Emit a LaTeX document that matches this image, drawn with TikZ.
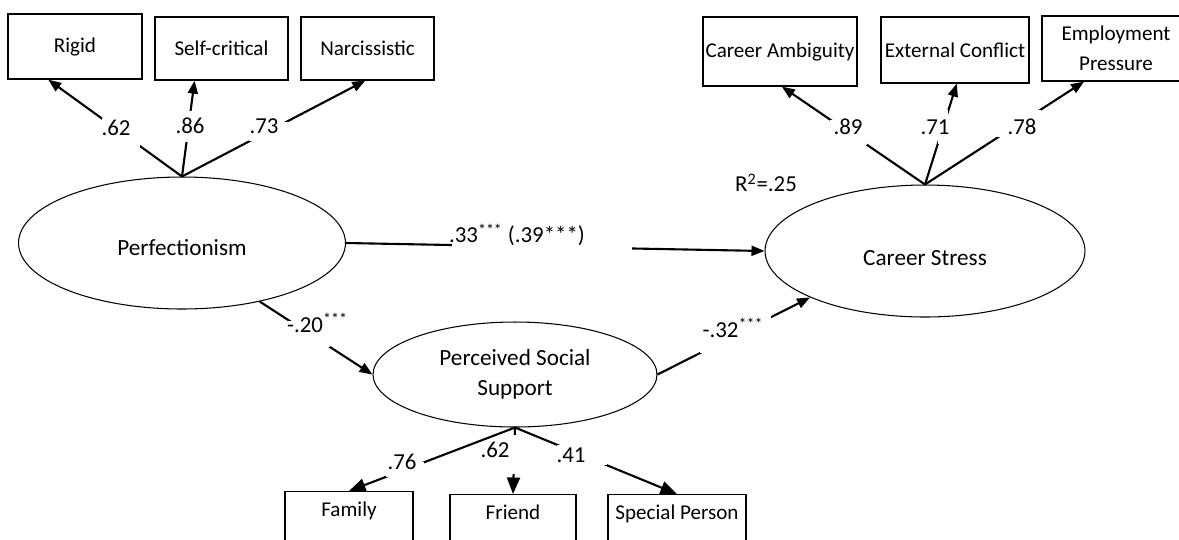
\documentclass[tikz,border=0pt]{standalone}
\usepackage{fontspec}
\setmainfont{Carlito}
\usetikzlibrary{shapes.geometric,arrows.meta}

\begin{document}
\begin{tikzpicture}[
    x=0.02cm, y=-0.02cm,
    latent/.style={ellipse, draw, line width=0.6pt, inner sep=0pt, align=center, font=\fontsize{13.2}{17}\selectfont},
    indicator/.style={rectangle, draw, line width=0.7pt, inner sep=0pt, align=center, font=\fontsize{12}{17}\selectfont},
    lowbox/.style={indicator, anchor=north, inner ysep=4pt, text height=10pt, text depth=2cm},
    arrow/.style={-{Triangle[length=0.26cm, width=0.2cm]}, line width=1.2pt},
    bigarrow/.style={-{Triangle[length=0.33cm, width=0.26cm]}, line width=1.2pt},
    gap/.style 2 args={fill=white, inner sep=0pt, minimum width=#1, minimum height=#2},
    coef/.style={inner sep=0pt, font=\fontsize{13}{15}\selectfont}
]
    \clip (0,0) rectangle (1179,539);

    % Latent variables
    \node[latent, minimum width=6.54cm, minimum height=2.64cm, text height=14pt, text depth=0pt] (perf) at (182,243) {Perfectionism};
    \node[latent, minimum width=6.4cm, minimum height=2.64cm, text height=16pt, text depth=0pt] (stress) at (925,251) {Career Stress};
    \node[latent, minimum width=5.68cm, minimum height=2.1cm] (support) at (515,374.5) {Perceived Social\\Support};

    % Perfectionism indicators
    \node[indicator, minimum width=2.68cm, minimum height=1.3cm] (rigid) at (75,46.5) {Rigid};
    \node[indicator, minimum width=2.66cm, minimum height=1.26cm] (selfcrit) at (221.5,48.5) {Self-critical};
    \node[indicator, minimum width=2.66cm, minimum height=1.26cm] (narc) at (367.5,48.5) {Narcissistic};

    % Career stress indicators
    \node[indicator, minimum width=3.08cm, minimum height=1.38cm] (ambig) at (780,51.5) {Career Ambiguity};
    \node[indicator, minimum width=2.96cm, minimum height=1.32cm] (conflict) at (955,50) {External Conflict};
    \node[indicator, minimum width=2.96cm, minimum height=1.3cm] (employ) at (1116,48.5) {Employment\\Pressure};

    % Social support indicators
    \node[lowbox, minimum width=2.56cm] (family) at (349,491) {Family};
    \node[lowbox, minimum width=2.52cm] (friend) at (513,494) {Friend};
    \node[lowbox, minimum width=2.76cm] (special) at (677,494) {Special Person};

    % Loadings
    \draw[arrow] (perf.north) -- node[pos=.458, gap={0.76cm}{0.58cm}] {} (rigid.231);
    \draw[arrow] (perf.north) -- node[pos=.52, gap={0.16cm}{0.62cm}] {} (selfcrit.230);
    \draw[arrow] (perf.north) -- node[pos=.472, gap={0.78cm}{0.38cm}] {} (narc.266);
    \draw[arrow] (stress.north) -- node[pos=.535, gap={0.74cm}{0.5cm}] {} (ambig.273);
    \draw[arrow] (stress.north) -- node[pos=.573, gap={0.2cm}{0.68cm}] {} (conflict.273);
    \draw[arrow] (stress.north) -- node[pos=.594, gap={0.88cm}{0.54cm}] {} (employ.226);
    \draw[bigarrow] (support.south) -- node[pos=.66, gap={0.76cm}{0.3cm}] {} (family.north);
    \draw[bigarrow] (support.south) -- node[pos=.41, gap={0.16cm}{0.78cm}] {} (friend.north);
    \draw[bigarrow] (support.south) -- node[pos=.416, gap={1.0cm}{0.4cm}] {} (special.north);

    % Structural paths
    \draw[arrow] (perf.east) -- node[pos=.468, gap={3.6cm}{0.3cm}] {} (stress.west);
    \draw[arrow] (perf.323) -- node[pos=.44, gap={0.84cm}{0.52cm}] {} (support.west);
    \draw[arrow] (support.east) -- node[pos=.513, gap={1.42cm}{0.74cm}] {} (stress.202);

    % Coefficients
    \node[coef] (lrigid) at (116,128) {.62};
    \node[coef] (lself) at (190,126) {.86};
    \node[coef] (lnarc) at (264,126) {.73};
    \node[coef] (lambig) at (848,127) {.89};
    \node[coef] (lconfl) at (935,127) {.71};
    \node[coef] (lemploy) at (1022,127) {.78};
    \node[coef] (lfamily) at (402,462) {.76};
    \node[coef] (lfriend) at (495,450) {.62};
    \node[coef] (lspecial) at (571,455) {.41};
    \node[coef] (bdirect) at (517,235) {.33\textsuperscript{***} (.39***)};
    \node[coef] (bsupport) at (317.5,323) {-.20\textsuperscript{***}};
    \node[coef] (bstress) at (733,328) {-.32\textsuperscript{***}};
    \node[coef] (rsq) at (766,183) {R\textsuperscript{2}=.25};
\end{tikzpicture}
\end{document}
